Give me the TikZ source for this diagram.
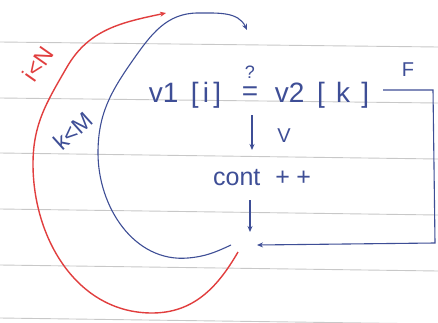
\documentclass[tikz,border=0pt]{standalone}
\usepackage{fontspec}
\setmainfont{Liberation Sans}
\usetikzlibrary{arrows.meta}
\definecolor{ink}{RGB}{62,78,150}
\definecolor{redink}{RGB}{225,62,62}
\definecolor{paperrule}{RGB}{200,200,200}
\begin{document}
\begin{tikzpicture}[x=1pt,y=1pt,
  inkline/.style={draw=ink,line width=1.1pt},
  redline/.style={draw=redink,line width=1.4pt},
  tipb/.style={-{Stealth[length=6pt,width=5pt]}},
  ruleline/.style={draw=paperrule,line width=0.9pt},
  lbl/.style={text=ink,inner sep=1pt,font=\fontsize{28}{30}\selectfont},
  small/.style={text=ink,inner sep=1pt,font=\fontsize{20}{22}\selectfont},
  ]
\useasboundingbox (0,0) rectangle (438,322);
\fill[white] (0,0) rectangle (438,322);
% paper rules
\draw[ruleline] (0,280) -- (438,275);
\draw[ruleline] (0,224) -- (438,219);
\draw[ruleline] (0,169) -- (438,163);
\draw[ruleline] (0,113) -- (438,107);
\draw[ruleline] (0,57) -- (438,51);
\draw[ruleline] (0,4) -- (438,-2);
% texts
\node[lbl] (L) at (185,227) {v1\hspace{.45em}[\hspace{.15em}i\hspace{.15em}]};
\node[lbl] (eqs) at (250,228) {=};
\node[text=ink,inner sep=1pt,font=\fontsize{18}{20}\selectfont] (q) at (250,250) {?};
\node[lbl] (R) at (322,227) {v2\hspace{.45em}[\hspace{.4em}k\hspace{.4em}]};
\node[small] (F) at (408,252) {F};
\node[small] (V) at (284,186) {V};
\node[lbl,font=\fontsize{25}{27}\selectfont] (cont) at (262,144) {cont\hspace{.6em}+\hspace{.25em}+};
\node[text=redink,inner sep=1pt,font=\fontsize{23}{25}\selectfont,rotate=55] (iN) at (38,258) {i<N};
\node[text=ink,inner sep=1pt,font=\fontsize{23}{25}\selectfont,rotate=42] (kM) at (73,191) {k<M};
% coordinates
\coordinate (va) at (252,207);
\coordinate (vb) at (252,172);
\coordinate (ca) at (250,122);
\coordinate (cb) at (250,90);
\coordinate (Fs) at (383,232);
\coordinate (c1) at (433,232);
\coordinate (c2) at (435,79);
\coordinate (JR) at (257,77);
\coordinate (JB) at (231,77);
\coordinate (BE) at (247,292);
\coordinate (JRed) at (238,70);
\coordinate (RE) at (166,309);
% connectors
\draw[inkline,tipb] (va) -- (vb);
\draw[inkline,tipb] (ca) -- (cb);
\draw[inkline,tipb] (Fs) -- (c1) -- (c2) -- (JR);
\draw[inkline,tipb] (JB) to[out=205,in=5] (188,64) to[out=185,in=-90] (98,169) to[out=90,in=-125] (133,262) to[out=55,in=180] (198,309) to[out=0,in=115] (BE);
\draw[redline,tipb] (JRed) to[out=-120,in=0] (152,9) to[out=180,in=-90] (33,158) to[out=90,in=-120] (67,255) to[out=60,in=192] (RE);
\end{tikzpicture}
\end{document}
